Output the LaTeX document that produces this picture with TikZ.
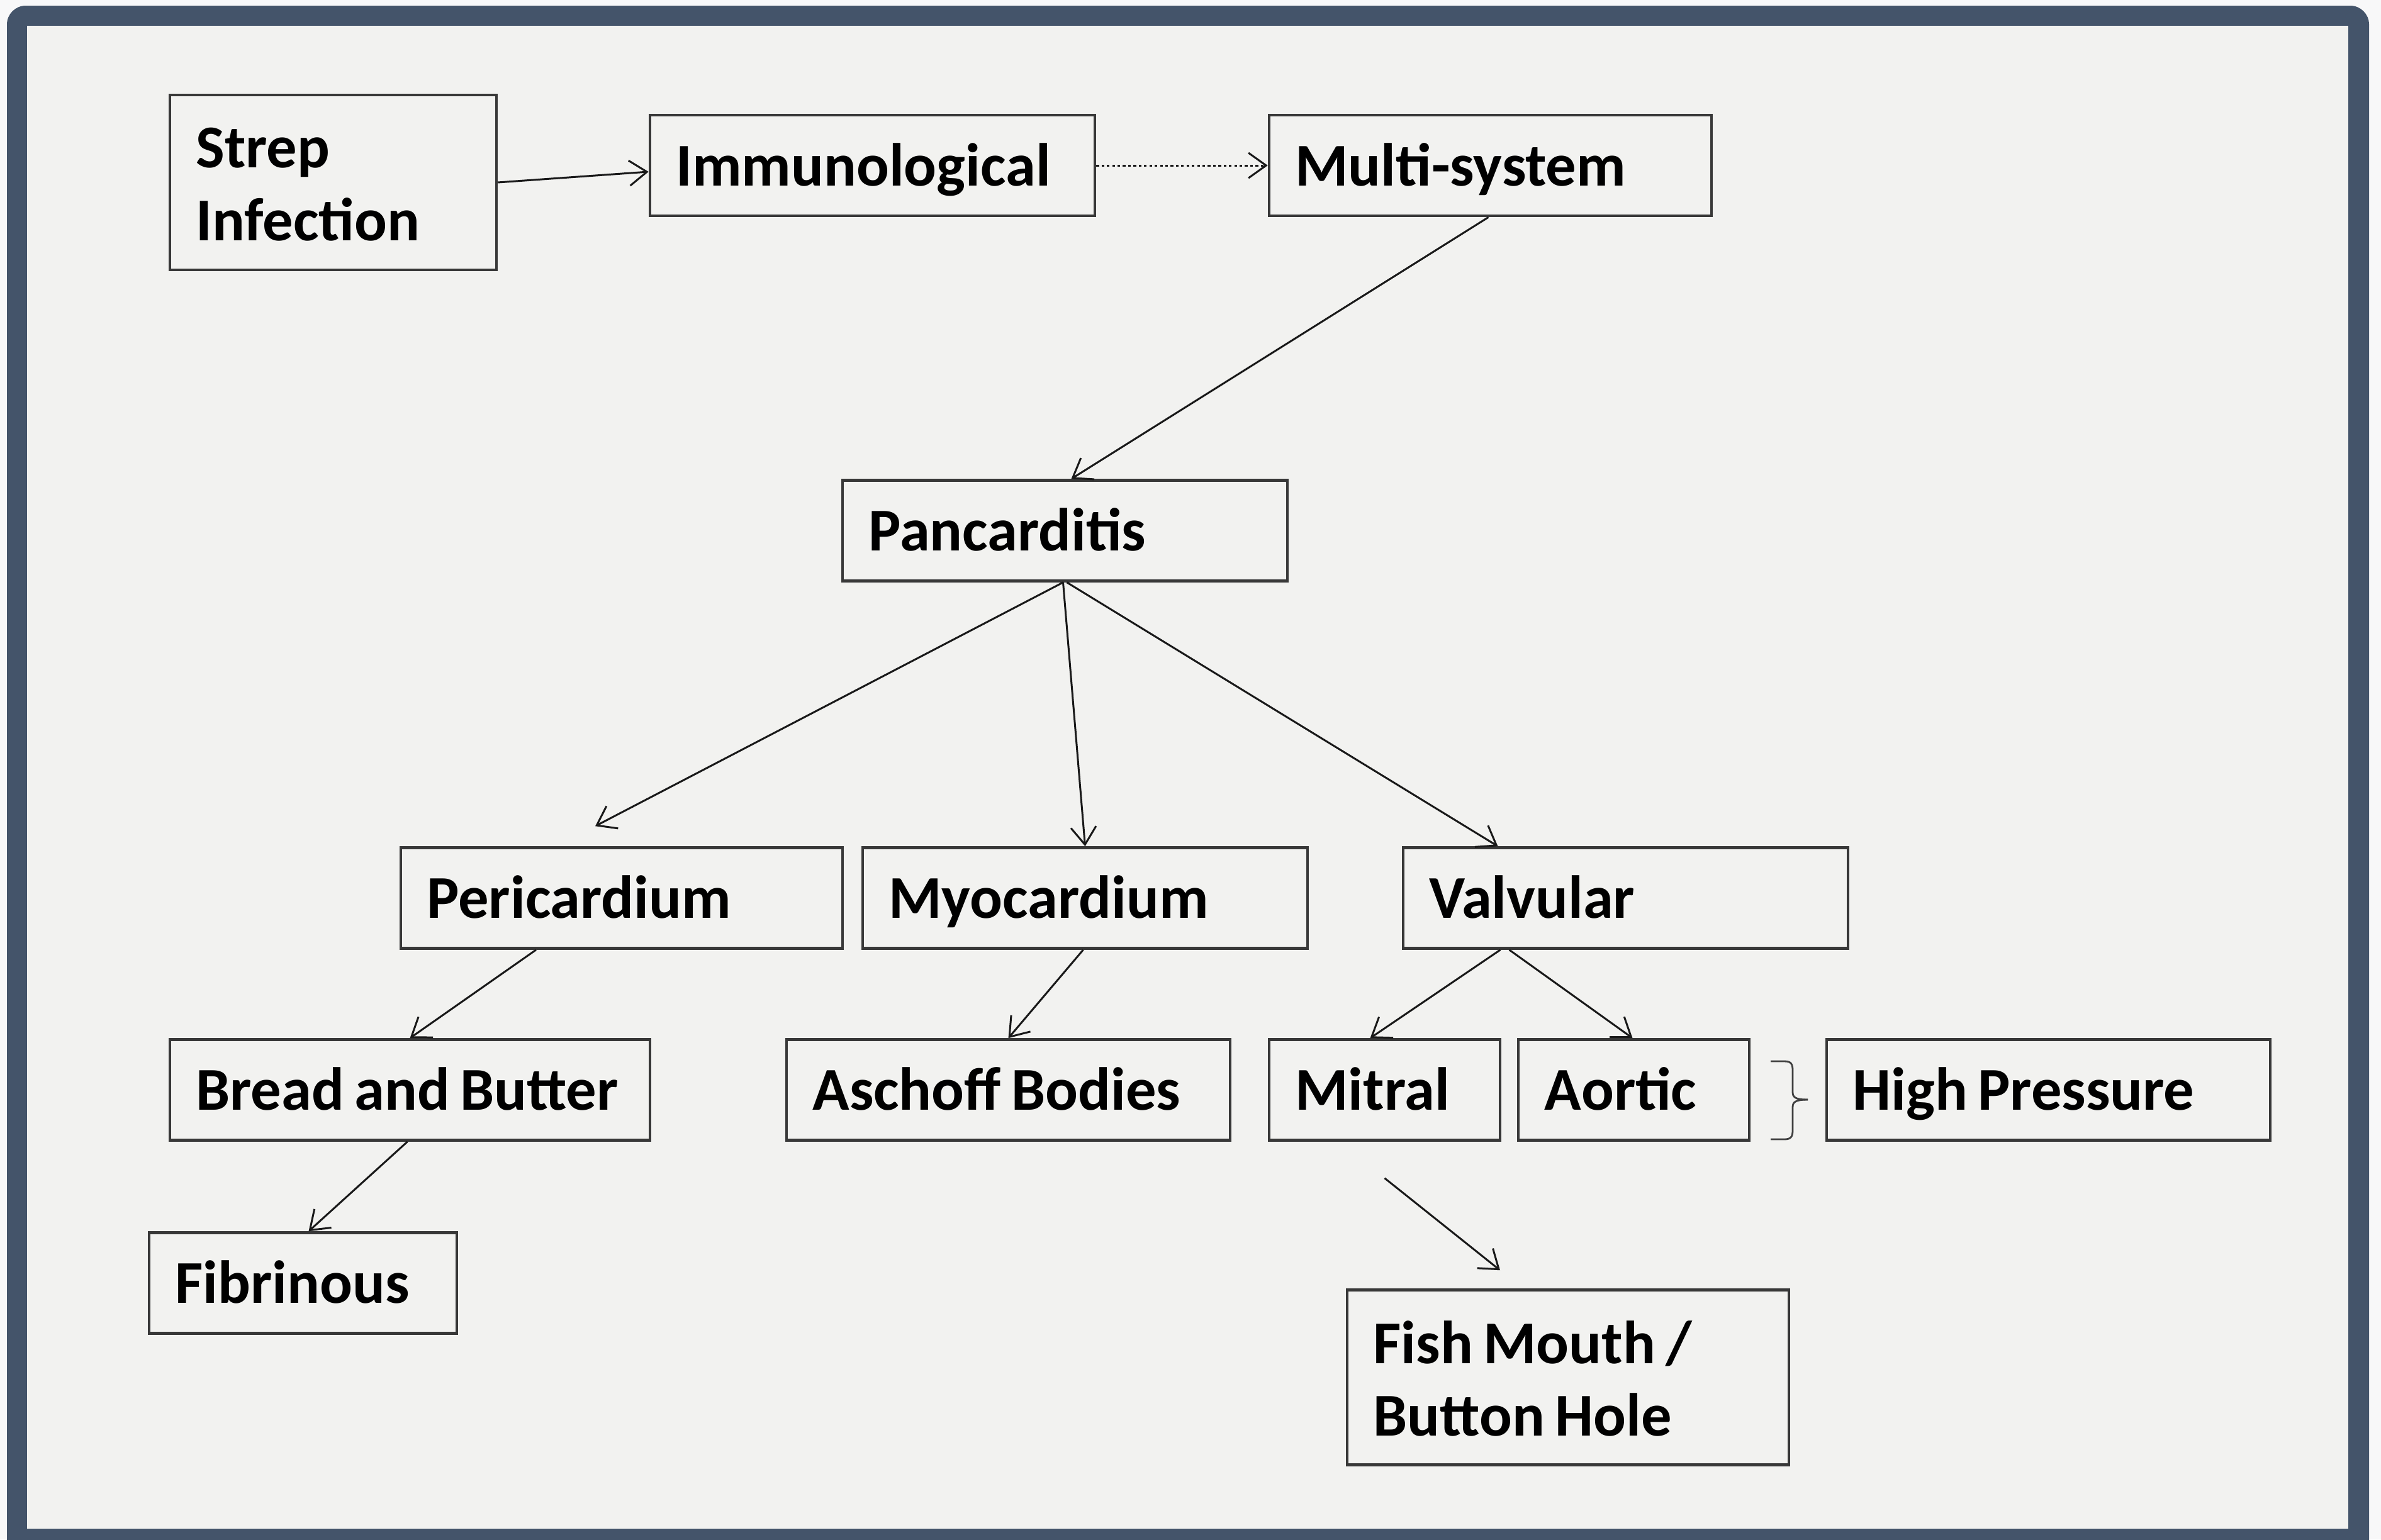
\documentclass[tikz,border=0pt]{standalone}
\usepackage{fontspec}
\setmainfont{Carlito}[WordSpace=0.75]
\usetikzlibrary{arrows.meta,calc}
\definecolor{framecol}{HTML}{44546A}
\definecolor{paper}{HTML}{F2F2F0}
\definecolor{boxline}{HTML}{383838}
\begin{document}
\begin{tikzpicture}[
  boxstd/.style={draw=boxline, line width=1.3pt, rectangle, inner sep=0pt, minimum width=#1, minimum height=1.6cm},
  boxtall/.style={draw=boxline, line width=1.3pt, rectangle, inner sep=0pt, minimum width=#1, minimum height=2.78cm},
  lbl/.style={anchor=base west, inner sep=0pt, font=\fontsize{27.5pt}{34pt}\selectfont\bfseries, text=black},
  conn/.style={draw=black!90, line width=0.85pt, -{Straight Barb[length=0.28cm,width=0.4cm,line width=0.85pt]}},
  dotconn/.style={conn, dash pattern=on 1.2pt off 1.2pt},
  bracestyle/.style={draw=black!75, line width=0.8pt}
]
\useasboundingbox (0,0) rectangle (37.84,-24.47);
\fill[white!96!framecol] (0,0) rectangle (37.84,-24.47);
\fill[framecol, rounded corners=0.3cm] (0.11,-0.09) rectangle (37.65,-25.0);
\fill[paper] (0.43,-0.41) rectangle (37.32,-24.30);

% boxes
\node[boxtall=5.19cm] (strep) at (5.295,-2.90) {};
\node[boxstd=7.07cm] (immu) at (13.865,-2.63) {};
\node[boxstd=7.03cm] (multi) at (23.685,-2.63) {};
\node[boxstd=7.07cm] (panc) at (16.925,-8.435) {};
\node[boxstd=7.02cm] (peri) at (9.88,-14.275) {};
\node[boxstd=7.07cm] (myo) at (17.245,-14.275) {};
\node[boxstd=7.07cm] (valv) at (25.835,-14.275) {};
\node[boxstd=7.63cm] (bread) at (6.515,-17.325) {};
\node[boxstd=7.05cm] (asch) at (16.025,-17.325) {};
\node[boxstd=3.67cm] (mitral) at (22.005,-17.325) {};
\node[boxstd=3.67cm] (aortic) at (25.965,-17.325) {};
\node[boxstd=7.05cm] (high) at (32.555,-17.325) {};
\node[boxstd=4.89cm] (fib) at (4.815,-20.395) {};
\node[boxtall=7.02cm] (fish) at (24.92,-21.895) {};

% labels
\node[lbl] (strep-a) at ([xshift=0.43cm,yshift=0.24cm]strep.west) {Strep};
\node[lbl] (strep-b) at ([xshift=0.43cm,yshift=-0.92cm]strep.west) {Infection};
\node[lbl] (immu-t) at ([xshift=0.43cm,yshift=-0.32cm]immu.west) {Immunological};
\node[lbl] (multi-t) at ([xshift=0.43cm,yshift=-0.32cm]multi.west) {Multi-system};
\node[lbl] (panc-t) at ([xshift=0.43cm,yshift=-0.32cm]panc.west) {Pancarditis};
\node[lbl] (peri-t) at ([xshift=0.43cm,yshift=-0.32cm]peri.west) {Pericardium};
\node[lbl] (myo-t) at ([xshift=0.43cm,yshift=-0.32cm]myo.west) {Myocardium};
\node[lbl] (valv-t) at ([xshift=0.43cm,yshift=-0.32cm]valv.west) {Valvular};
\node[lbl] (bread-t) at ([xshift=0.43cm,yshift=-0.32cm]bread.west) {Bread and Butter};
\node[lbl] (asch-t) at ([xshift=0.43cm,yshift=-0.32cm]asch.west) {Aschoff Bodies};
\node[lbl] (mitral-t) at ([xshift=0.43cm,yshift=-0.32cm]mitral.west) {Mitral};
\node[lbl] (aortic-t) at ([xshift=0.43cm,yshift=-0.32cm]aortic.west) {Aortic};
\node[lbl] (high-t) at ([xshift=0.43cm,yshift=-0.32cm]high.west) {High Pressure};
\node[lbl] (fib-t) at ([xshift=0.43cm,yshift=-0.32cm]fib.west) {Fibrinous};
\node[lbl] (fish-a) at ([xshift=0.43cm,yshift=0.22cm]fish.west) {Fish Mouth /};
\node[lbl] (fish-b) at ([xshift=0.43cm,yshift=-0.93cm]fish.west) {Button Hole};

% free ends
\coordinate (perit) at ([xshift=-0.42cm,yshift=0.32cm]peri.north);
\coordinate (mfree) at ([yshift=-0.58cm]mitral.south);
\coordinate (ffree) at ([xshift=-1.08cm,yshift=0.29cm]fish.north);

% connectors
\draw[conn] (strep.east) -- ([yshift=-0.1cm]immu.west);
\draw[dotconn] (immu.east) -- (multi.west);
\draw[conn] ([xshift=-0.03cm]multi.south) -- ([xshift=0.1cm]panc.north);
\draw[conn] ([xshift=-0.03cm]panc.south) -- (perit);
\draw[conn] ([xshift=-0.03cm]panc.south) -- (myo.north);
\draw[conn] ([xshift=0.03cm]panc.south) -- ([xshift=-2.03cm]valv.north);
\draw[conn] ([xshift=-1.36cm]peri.south) -- (bread.north);
\draw[conn] ([xshift=-0.03cm]myo.south) -- (asch.north);
\draw[conn] ([xshift=-1.99cm]valv.south) -- ([xshift=-0.23cm]mitral.north);
\draw[conn] ([xshift=-1.85cm]valv.south) -- ([xshift=-0.02cm]aortic.north);
\draw[conn] ([xshift=-0.04cm]bread.south) -- ([xshift=0.09cm]fib.north);
\draw[conn] (mfree) -- (ffree);

% brace
\draw[bracestyle] (28.14,-16.87) -- (28.36,-16.87) .. controls (28.47,-16.87) and (28.49,-16.92) .. (28.49,-17.02)
  -- (28.49,-17.36) .. controls (28.49,-17.44) and (28.53,-17.48) .. (28.73,-17.48);
\draw[bracestyle] (28.14,-18.11) -- (28.36,-18.11) .. controls (28.47,-18.11) and (28.49,-18.06) .. (28.49,-17.96)
  -- (28.49,-17.60) .. controls (28.49,-17.52) and (28.53,-17.48) .. (28.73,-17.48);
\end{tikzpicture}
\end{document}
